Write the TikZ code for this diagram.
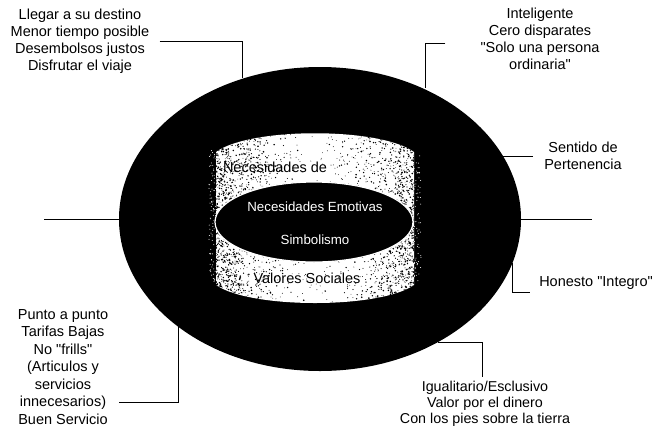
\documentclass[tikz,border=0pt]{standalone}
\usepackage{fontspec}
\setmainfont{Liberation Sans}
\usetikzlibrary{shapes.geometric}
\begin{document}
\begin{tikzpicture}[x=1pt,y=-1pt,
  lbl/.style={align=center,inner sep=0pt,font=\fontsize{14.5}{17}\selectfont},
  inlbl/.style={inner sep=0pt,text=white,font=\fontsize{13.3}{16}\selectfont},
  bandlbl/.style={inner sep=0pt,font=\fontsize{14.5}{17}\selectfont},
  link/.style={line width=1pt}]
\useasboundingbox (0,0) rectangle (658,440);
\node[ellipse,fill=black,minimum width=402pt,minimum height=304pt,inner sep=0pt] (ring) at (320,219) {};
\begin{scope}
\clip (216,152) .. controls (250,127) and (380,127) .. (414,152) -- (414,285) .. controls (380,309) and (250,309) .. (216,285) -- cycle;
\fill[white] (210,120) rectangle (420,315);
\pgfmathsetseed{11}
\foreach \i in {1,...,2600}{
  \pgfmathsetmacro{\sx}{315+101*(2*int(2*rnd)-1)*rnd^0.3}
  \pgfmathsetmacro{\sy}{126+182*rnd}
  \pgfmathsetmacro{\sr}{0.35+0.55*rnd}
  \fill (\sx,\sy) circle (\sr pt);
}
\foreach \i in {1,...,500}{
  \pgfmathsetmacro{\sx}{214+202*rnd}
  \pgfmathsetmacro{\sy}{126+182*rnd}
  \fill (\sx,\sy) circle (0.45pt);
}
\end{scope}
\foreach \i in {1,...,160}{
  \pgfmathsetmacro{\sx}{315+(2*int(2*rnd)-1)*(99+7*rnd)}
  \pgfmathsetmacro{\sy}{150+135*rnd}
  \fill[white] (\sx,\sy) circle (0.5pt);
}
\node[ellipse,fill=black,draw=white,line width=1.2pt,minimum width=198pt,minimum height=80pt,inner sep=0pt] (emo) at (314,222) {};
\node[inlbl] (emotivas) at (315,207) {Necesidades Emotivas};
\node[inlbl] (simbolo) at (315,240) {Simbolismo};
\node[bandlbl] (necesidades) at (275,167) {Necesidades de};
\node[bandlbl] (valores) at (307,278) {Valores Sociales};

\node[lbl] (destino) at (80,41) {Llegar a su destino\\Menor tiempo posible\\Desembolsos justos\\Disfrutar el viaje};
\node[lbl] (intel) at (540,39) {Inteligente\\Cero disparates\\\textquotedbl Solo una persona\\ordinaria\textquotedbl};
\node[lbl] (perten) at (583,156) {Sentido de\\Pertenencia};
\node[lbl] (honesto) at (596,283) {Honesto \textquotedbl Integro\textquotedbl};
\node[lbl,font=\fontsize{14.5}{17.5}\selectfont] (punto) at (63,367) {Punto a punto\\Tarifas Bajas\\No \textquotedbl frills\textquotedbl\\(Articulos y\\servicios\\innecesarios)\\Buen Servicio};
\node[lbl,font=\fontsize{14.3}{16}\selectfont] (igual) at (485,404) {Igualitario/Esclusivo\\Valor por el dinero\\Con los pies sobre la tierra};

\coordinate (c1) at (242,78);
\coordinate (c2) at (425,88);
\coordinate (c3) at (503,156);
\coordinate (c4) at (512,263);
\coordinate (c5) at (438,342);
\coordinate (c6) at (178,326);
\coordinate (wl) at (44,219);
\coordinate (wr) at (592,219);

\draw[link] (wl) -- (ring.west);
\draw[link] (ring.east) -- (wr);
\draw[link] ([xshift=10pt]destino.east) -| (c1);
\draw[link] ([xshift=-35pt,yshift=-4pt]intel.west) -| (c2);
\draw[link] ([xshift=-11pt]perten.west) -- (c3);
\draw[link] (c4) |- ([xshift=-9pt,yshift=-9pt]honesto.west);
\draw[link] (c5) -| ([xshift=-3pt,yshift=4pt]igual.north);
\draw[link] ([xshift=11pt,yshift=-35pt]punto.east) -| (c6);
\end{tikzpicture}
\end{document}
